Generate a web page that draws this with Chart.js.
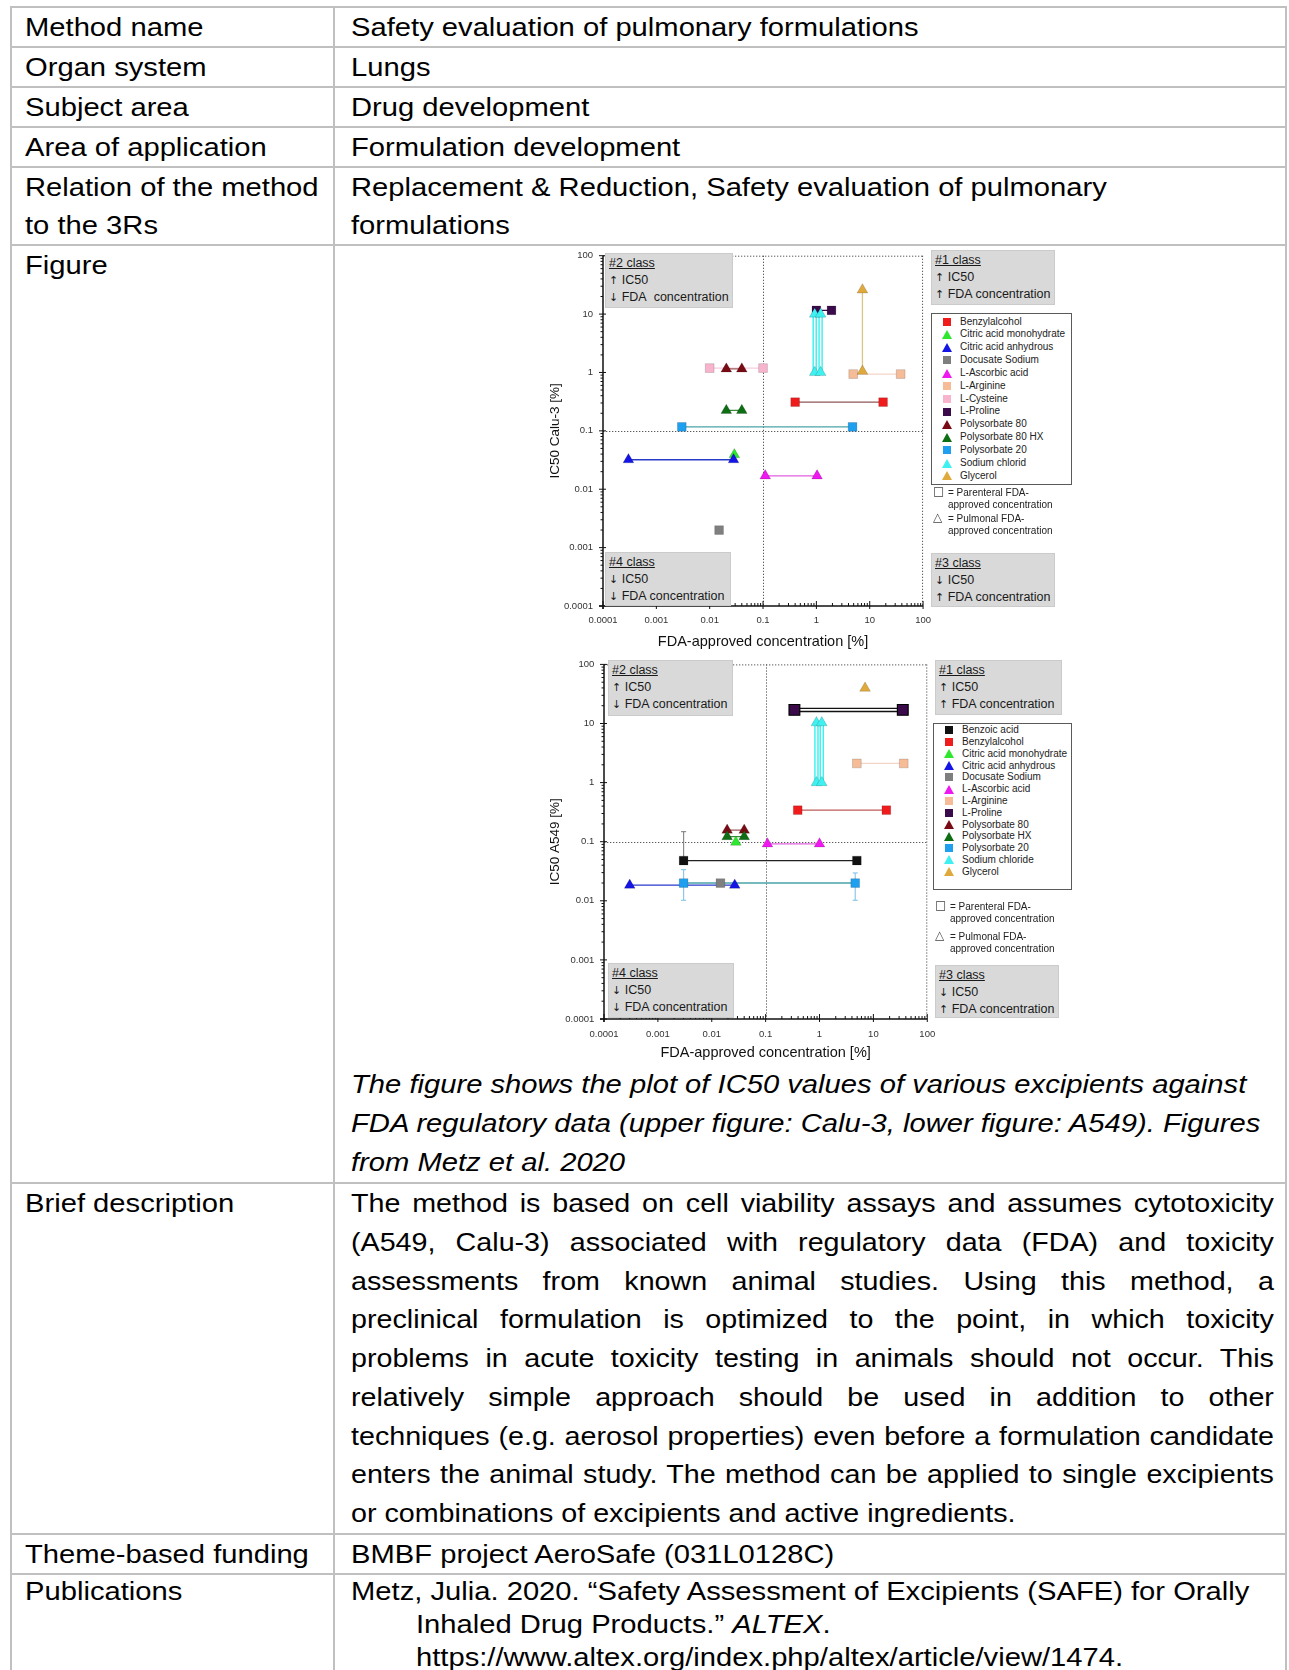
<!DOCTYPE html>
<html>
<head>
<meta charset="utf-8">
<script src="https://cdn.jsdelivr.net/npm/chart.js@4.4.1/dist/chart.umd.min.js"></script>
<style>
html, body { margin: 0; padding: 0; background: #fff; }
body { width: 1289px; height: 1670px; overflow: hidden; position: relative; font-family: "Liberation Sans", Arial, sans-serif; color: #000; }
.sheet { position: absolute; left: 10px; top: 6px; width: 1273px; display: grid; grid-template-columns: 321px 950px; grid-template-rows: 38px 38px 38px 38px 76px 936px 349px 38px 120px; gap: 2px; padding: 2px; background: #c0c0c0; }
.c { background: #fff; position: relative; overflow: hidden; }
.t { position: absolute; left: 13px; top: 0; transform: scaleX(1.14); transform-origin: 0 0; font-size: 25.6px; line-height: 38px; white-space: nowrap; }
.r { left: 15.5px; width: 809.6px; }
.cap { top: auto; bottom: 0; font-style: italic; line-height: 39px; }
.brief { line-height: 38.75px; white-space: normal; transform: scaleX(1.12); width: 824px; }
.brief div { text-align: justify; text-align-last: justify; }
.brief div.last { text-align-last: left; }
.pub { line-height: 33px; }
.pub .ind { padding-left: 57px; }
.plot { position: absolute; z-index: 1; }
.plot canvas { display: block; }
.cls { position: absolute; z-index: 2; box-sizing: border-box; background: #d9d9d9; border: 1px solid #cbcbcb; font-size: 12.5px; line-height: 17.3px; padding: 0.5px 0 0 3px; color: #1a1a1a; white-space: nowrap; }
.cls u { text-decoration: underline; }
.ar { font-family: "DejaVu Sans", sans-serif; font-size: 11px; }
.leg { position: absolute; z-index: 2; box-sizing: border-box; background: #fff; border: 1px solid #5a5a5a; font-size: 10px; color: #222; }
.li { position: relative; padding-left: 28px; white-space: nowrap; }
.mk { position: absolute; }
.mk.sq { width: 8px; height: 8px; }
.mk.tri { width: 0; height: 0; border-left: 5px solid transparent; border-right: 5px solid transparent; }
.note { position: absolute; z-index: 2; font-size: 10px; line-height: 11.8px; color: #222; white-space: nowrap; }
.note .sym { position: absolute; left: 0; top: -1px; font-family: "DejaVu Sans", sans-serif; font-size: 12px; color: #444; }
</style>
</head>
<body>
<div class="sheet">
  <div class="c"><div class="t">Method name</div></div>
  <div class="c"><div class="t r">Safety evaluation of pulmonary formulations</div></div>
  <div class="c"><div class="t">Organ system</div></div>
  <div class="c"><div class="t r">Lungs</div></div>
  <div class="c"><div class="t">Subject area</div></div>
  <div class="c"><div class="t r">Drug development</div></div>
  <div class="c"><div class="t">Area of application</div></div>
  <div class="c"><div class="t r">Formulation development</div></div>
  <div class="c"><div class="t">Relation of the method<br>to the 3Rs</div></div>
  <div class="c"><div class="t r">Replacement &amp; Reduction, Safety evaluation of pulmonary<br>formulations</div></div>
  <div class="c"><div class="t">Figure</div></div>
  <div class="c"><div class="t r cap">The figure shows the plot of IC50 values of various excipients against<br>FDA regulatory data (upper figure: Calu-3, lower figure: A549). Figures<br>from Metz et al. 2020</div></div>
  <div class="c"><div class="t">Brief description</div></div>
  <div class="c"><div class="t r brief">
    <div>The method is based on cell viability assays and assumes cytotoxicity</div>
    <div>(A549, Calu-3) associated with regulatory data (FDA) and toxicity</div>
    <div>assessments from known animal studies. Using this method, a</div>
    <div>preclinical formulation is optimized to the point, in which toxicity</div>
    <div>problems in acute toxicity testing in animals should not occur. This</div>
    <div>relatively simple approach should be used in addition to other</div>
    <div>techniques (e.g. aerosol properties) even before a formulation candidate</div>
    <div>enters the animal study. The method can be applied to single excipients</div>
    <div class="last">or combinations of excipients and active ingredients.</div>
  </div></div>
  <div class="c"><div class="t">Theme-based funding</div></div>
  <div class="c"><div class="t r">BMBF project AeroSafe (031L0128C)</div></div>
  <div class="c"><div class="t pub">Publications</div></div>
  <div class="c"><div class="t r pub">
    <div>Metz, Julia. 2020. “Safety Assessment of Excipients (SAFE) for Orally</div>
    <div class="ind">Inhaled Drug Products.” <i>ALTEX</i>.</div>
    <div class="ind">https://www.altex.org/index.php/altex/article/view/1474.</div>
  </div></div>
</div>

<div class="plot" style="left:545px;top:240px"><canvas id="calu3" width="395" height="420"></canvas></div>
<div class="plot" style="left:546px;top:649px"><canvas id="a549" width="399" height="424"></canvas></div>

<div class="cls" style="left:605px;top:253px;width:128px;height:55px"><u>#2 class</u><br><span class="ar">↑</span> IC50<br><span class="ar">↓</span> FDA&nbsp; concentration</div>
<div class="cls" style="left:931px;top:250px;width:124px;height:55px"><u>#1 class</u><br><span class="ar">↑</span> IC50<br><span class="ar">↑</span> FDA concentration</div>
<div class="cls" style="left:931px;top:553px;width:124px;height:54px"><u>#3 class</u><br><span class="ar">↓</span> IC50<br><span class="ar">↑</span> FDA concentration</div>
<div class="cls" style="left:605px;top:552px;width:126px;height:54px"><u>#4 class</u><br><span class="ar">↓</span> IC50<br><span class="ar">↓</span> FDA concentration</div>
<div class="leg" id="leg-calu3" style="left:931px;top:313px;width:141px;height:172px;padding-top:1.6px"></div>
<div class="note" style="left:933px;top:487px"><span class="sym">□</span><div style="padding-left:15px">= Parenteral FDA-<br>approved concentration</div></div>
<div class="note" style="left:933px;top:513px"><span class="sym">△</span><div style="padding-left:15px">= Pulmonal FDA-<br>approved concentration</div></div>

<div class="cls" style="left:608px;top:660px;width:125px;height:56px"><u>#2 class</u><br><span class="ar">↑</span> IC50<br><span class="ar">↓</span> FDA concentration</div>
<div class="cls" style="left:935px;top:660px;width:127px;height:55px"><u>#1 class</u><br><span class="ar">↑</span> IC50<br><span class="ar">↑</span> FDA concentration</div>
<div class="cls" style="left:935px;top:965px;width:124px;height:53px"><u>#3 class</u><br><span class="ar">↓</span> IC50<br><span class="ar">↑</span> FDA concentration</div>
<div class="cls" style="left:608px;top:963px;width:126px;height:55px"><u>#4 class</u><br><span class="ar">↓</span> IC50<br><span class="ar">↓</span> FDA concentration</div>
<div class="leg" id="leg-a549" style="left:933px;top:723px;width:139px;height:167px;padding-top:0.2px"></div>
<div class="note" style="left:935px;top:901px"><span class="sym">□</span><div style="padding-left:15px">= Parenteral FDA-<br>approved concentration</div></div>
<div class="note" style="left:935px;top:931px"><span class="sym">△</span><div style="padding-left:15px">= Pulmonal FDA-<br>approved concentration</div></div>

<script>
// Shared axis ticks (both axes are log, 0.0001 .. 100 %)
const AXIS_TICKS = [0.0001, 0.001, 0.01, 0.1, 1, 10, 100];
const AXIS_LABELS = ['0.0001', '0.001', '0.01', '0.1', '1', '10', '100'];
const THRESHOLD_FDA = 0.1;
const THRESHOLD_IC50 = 0.1;

// Upper figure: Calu-3. One entry per marker; markers of the same group are joined.
// Route: P = parenteral FDA-approved concentration (square), L = pulmonal (triangle)
const CALU3_SUBSTANCE = ['Benzylalcohol', 'Benzylalcohol', 'Citric acid monohydrate', 'Citric acid anhydrous', 'Citric acid anhydrous',
  'Docusate Sodium', 'L-Ascorbic acid', 'L-Ascorbic acid', 'L-Arginine', 'L-Arginine', 'L-Cysteine', 'L-Cysteine',
  'L-Proline', 'L-Proline', 'Polysorbate 80', 'Polysorbate 80', 'Polysorbate 80 HX', 'Polysorbate 80 HX',
  'Polysorbate 20', 'Polysorbate 20', 'Sodium chlorid', 'Sodium chlorid', 'Sodium chlorid', 'Sodium chlorid', 'Glycerol', 'Glycerol'];
const CALU3_GROUP = [1, 1, 2, 3, 3, 4, 5, 5, 6, 6, 7, 7, 8, 8, 9, 9, 10, 10, 11, 11, 12, 12, 13, 13, 14, 14];
const CALU3_ROUTE = ['P', 'P', 'L', 'L', 'L', 'P', 'L', 'L', 'P', 'P', 'P', 'P', 'P', 'P', 'L', 'L', 'L', 'L', 'P', 'P', 'L', 'L', 'L', 'L', 'L', 'L'];
const CALU3_FDA = [0.40, 17.8, 0.029, 0.0003, 0.028, 0.015, 0.11, 1.03, 4.9, 38, 0.01, 0.1,
  1.0, 1.92, 0.0205, 0.040, 0.0205, 0.040, 0.003, 4.76, 0.93, 0.93, 1.2, 1.2, 7.3, 7.3];
const CALU3_IC50 = [0.31, 0.31, 0.039, 0.032, 0.032, 0.002, 0.017, 0.017, 0.94, 0.94, 1.19, 1.19,
  11.6, 11.6, 1.15, 1.15, 0.224, 0.224, 0.117, 0.117, 10, 1, 10, 1, 26, 1.05];
const CALU3_LEGEND = ['Benzylalcohol', 'Citric acid monohydrate', 'Citric acid anhydrous', 'Docusate Sodium', 'L-Ascorbic acid',
  'L-Arginine', 'L-Cysteine', 'L-Proline', 'Polysorbate 80', 'Polysorbate 80 HX', 'Polysorbate 20', 'Sodium chlorid', 'Glycerol'];

// Lower figure: A549
const A549_SUBSTANCE = ['Benzoic acid', 'Benzoic acid', 'Benzylalcohol', 'Benzylalcohol', 'Citric acid monohydrate',
  'Citric acid anhydrous', 'Citric acid anhydrous', 'Docusate Sodium', 'L-Ascorbic acid', 'L-Ascorbic acid',
  'L-Arginine', 'L-Arginine', 'L-Proline', 'L-Proline', 'Polysorbate 80', 'Polysorbate 80', 'Polysorbate HX', 'Polysorbate HX',
  'Polysorbate 20', 'Polysorbate 20', 'Sodium chloride', 'Sodium chloride', 'Sodium chloride', 'Sodium chloride', 'Glycerol'];
const A549_GROUP = [1, 1, 2, 2, 3, 4, 4, 5, 6, 6, 7, 7, 8, 8, 9, 9, 10, 10, 11, 11, 12, 12, 13, 13, 14];
const A549_ROUTE = ['P', 'P', 'P', 'P', 'L', 'L', 'L', 'P', 'L', 'L', 'P', 'P', 'P', 'P', 'L', 'L', 'L', 'L', 'P', 'P', 'L', 'L', 'L', 'L', 'L'];
const A549_FDA = [0.003, 4.93, 0.394, 17.4, 0.028, 0.0003, 0.0267, 0.0145, 0.108, 1.0, 4.93, 36.6,
  0.342, 35.1, 0.0193, 0.040, 0.0193, 0.040, 0.003, 4.6, 0.877, 0.877, 1.1, 1.1, 7.0];
const A549_IC50 = [0.048, 0.048, 0.341, 0.341, 0.098, 0.0184, 0.0184, 0.020, 0.092, 0.092, 2.11, 2.11,
  17, 17, 0.157, 0.157, 0.122, 0.122, 0.020, 0.020, 10.3, 1.0, 10.3, 1.0, 39.6];
const A549_ERR_LO = [null, null, null, null, null, null, null, null, null, null, null, null,
  null, null, null, null, null, null, 0.0102, 0.0102, null, null, null, null, null];
const A549_ERR_HI = [0.148, null, null, null, null, null, null, null, null, null, null, null,
  null, null, null, null, null, null, 0.0337, 0.0296, null, null, null, null, null];
const A549_LEGEND = ['Benzoic acid', 'Benzylalcohol', 'Citric acid monohydrate', 'Citric acid anhydrous', 'Docusate Sodium',
  'L-Ascorbic acid', 'L-Arginine', 'L-Proline', 'Polysorbate 80', 'Polysorbate HX', 'Polysorbate 20', 'Sodium chloride', 'Glycerol'];

const STYLE = {
  'Benzoic acid': { fill: '#111111', line: '#222222', err: '#8a8a8a' },
  'Benzylalcohol': { fill: '#f01c1c', line: '#8e5656' },
  'Citric acid monohydrate': { fill: '#2ee82e', line: '#2ee82e' },
  'Citric acid anhydrous': { fill: '#1414e6', line: '#2a3acc' },
  'Docusate Sodium': { fill: '#7f7f7f', line: '#7f7f7f' },
  'L-Ascorbic acid': { fill: '#f018f0', line: '#e060e0' },
  'L-Arginine': { fill: '#f6bc98', line: '#f3d6c8' },
  'L-Cysteine': { fill: '#f8b4cc', line: '#f6cddc' },
  'L-Proline': { fill: '#3a0a4a', line: '#3a0a4a' },
  'Polysorbate 80': { fill: '#7a0a14', line: '#a05a5a' },
  'Polysorbate 80 HX': { fill: '#0d6e14', line: '#3d8a3d' },
  'Polysorbate HX': { fill: '#0d6e14', line: '#3d8a3d' },
  'Polysorbate 20': { fill: '#1e9ff0', line: '#4aa3a8', err: '#8cc8ea' },
  'Sodium chlorid': { fill: '#3ef0f0', line: '#3ef0f0' },
  'Sodium chloride': { fill: '#3ef0f0', line: '#3ef0f0' },
  'Glycerol': { fill: '#e0a93c', line: '#dcc38a' }
};

function seg(ctx, x1, y1, x2, y2) {
  ctx.beginPath();
  ctx.moveTo(x1, y1);
  ctx.lineTo(x2, y2);
  ctx.stroke();
}

// log ticks: decades are major (labelled), 2..9 are minor
function logTicks(scale) {
  const ticks = [];
  AXIS_TICKS.forEach((v, i) => {
    ticks.push({ value: v, major: true });
    if (i < AXIS_TICKS.length - 1) {
      for (let k = 2; k <= 9; k++) ticks.push({ value: v * k, major: false });
    }
  });
  scale.ticks = ticks;
}

function tickLabel(value) {
  const i = AXIS_TICKS.indexOf(value);
  return i >= 0 ? AXIS_LABELS[i] : '';
}

const framePlugin = {
  id: 'frame',
  beforeDatasetsDraw(chart) {
    const { ctx, chartArea: a, scales: { x, y } } = chart;
    ctx.save();
    ctx.strokeStyle = '#5a5a5a';
    ctx.lineWidth = 1;
    ctx.setLineDash([1.3, 1.7]);
    const fx = Math.round(x.getPixelForValue(THRESHOLD_FDA)) + 0.5;
    const fy = Math.round(y.getPixelForValue(THRESHOLD_IC50)) + 0.5;
    seg(ctx, fx, a.top, fx, a.bottom);
    seg(ctx, a.left, fy, a.right, fy);
    seg(ctx, a.left, a.top + 0.5, a.right, a.top + 0.5);
    seg(ctx, a.right - 0.5, a.top, a.right - 0.5, a.bottom);
    ctx.setLineDash([]);

    ctx.strokeStyle = '#111';
    ctx.lineWidth = 1.5;
    seg(ctx, a.left - 4, a.bottom, a.right, a.bottom);
    seg(ctx, a.left, a.top, a.left, a.bottom + 3);
    ctx.lineWidth = 1;
    x.ticks.forEach(t => {
      const p = x.getPixelForValue(t.value);
      seg(ctx, p, a.bottom + (t.major ? 3 : 0), p, a.bottom - (t.major ? 5 : 3));
    });
    y.ticks.forEach(t => {
      const p = y.getPixelForValue(t.value);
      seg(ctx, a.left - (t.major ? 4 : 2.5), p, a.left + (t.major ? 3 : 0), p);
    });

    // error bars
    chart.data.datasets.forEach(ds => {
      if (!ds.errLo) return;
      ctx.strokeStyle = ds.errColor || '#888';
      ctx.lineWidth = 1.2;
      ds.data.forEach((pt, i) => {
        const lo = ds.errLo[i], hi = ds.errHi[i];
        if (lo == null && hi == null) return;
        const px = x.getPixelForValue(pt.x);
        const y1 = y.getPixelForValue(lo == null ? pt.y : lo);
        const y2 = y.getPixelForValue(hi == null ? pt.y : hi);
        seg(ctx, px, y1, px, y2);
        if (lo != null) seg(ctx, px - 2.5, y1, px + 2.5, y1);
        if (hi != null) seg(ctx, px - 2.5, y2, px + 2.5, y2);
      });
    });
    ctx.restore();
  }
};

function buildDatasets(names, groups, routes, fda, ic50, opts) {
  const ds = [];
  const groupIds = [...new Set(groups)];
  groupIds.forEach(g => {
    const idx = groups.map((v, i) => (v === g ? i : -1)).filter(i => i >= 0);
    const name = names[idx[0]];
    const st = STYLE[name];
    const pts = idx.map(i => ({ x: fda[i], y: ic50[i] }));
    const isDouble = opts.double.includes(name);
    const lineColor = (opts.lineColor && opts.lineColor[name]) || st.line;
    if (idx.length > 1) {
      ds.push({
        data: pts, showLine: true, pointRadius: 0, borderColor: lineColor,
        borderWidth: isDouble ? 4.5 : 1.3, order: 100 - g
      });
      if (isDouble) {
        ds.push({ data: pts, showLine: true, pointRadius: 0, borderColor: '#ffffff', borderWidth: 1.6, order: 60 - g });
      }
    }
    const big = opts.big.includes(name);
    const point = {
      data: pts, showLine: false,
      pointStyle: idx.map(i => (routes[i] === 'P' ? 'rect' : 'triangle')),
      pointRadius: idx.map(i => (routes[i] === 'P' ? (big ? 7.6 : 6.2) : 6.2)),
      pointBackgroundColor: st.fill,
      pointBorderColor: big ? '#000' : 'rgba(0,0,0,0.25)',
      pointBorderWidth: big ? 1.2 : 0.6,
      order: -g
    };
    if (opts.errLo) {
      point.errLo = idx.map(i => opts.errLo[i]);
      point.errHi = idx.map(i => opts.errHi[i]);
      point.errColor = st.err;
    }
    ds.push(point);
  });
  return ds;
}

function makeChart(id, datasets, yTitle, geo) {
  const tickFont = { family: '"Liberation Sans", Arial, sans-serif', size: 9.5 };
  return new Chart(document.getElementById(id), {
    type: 'scatter',
    data: { datasets },
    options: {
      responsive: false,
      animation: false,
      events: [],
      layout: { padding: { left: 0, top: 12, right: 12, bottom: 0 } },
      plugins: { legend: { display: false }, tooltip: { enabled: false } },
      scales: {
        x: {
          type: 'logarithmic', min: 0.0001, max: 100,
          afterBuildTicks: logTicks,
          afterFit: s => { s.height = geo.xh; },
          grid: { display: false, drawTicks: false },
          border: { display: false },
          ticks: { callback: tickLabel, autoSkip: false, maxRotation: 0, padding: geo.xpad, font: tickFont, color: '#333' },
          title: { display: true, text: 'FDA-approved concentration [%]', color: '#111',
            font: { family: '"Liberation Sans", Arial, sans-serif', size: 14.5 }, padding: { top: 0, bottom: geo.xtb } }
        },
        y: {
          type: 'logarithmic', min: 0.0001, max: 100,
          afterBuildTicks: logTicks,
          afterFit: s => { s.width = 58; },
          grid: { display: false, drawTicks: false },
          border: { display: false },
          ticks: { callback: tickLabel, autoSkip: false, padding: geo.ypad, font: tickFont, color: '#333' },
          title: { display: true, text: yTitle, color: '#111',
            font: { family: '"Liberation Sans", Arial, sans-serif', size: 13.5 }, padding: { top: geo.ytp, bottom: 0 } }
        }
      }
    },
    plugins: [framePlugin]
  });
}

function buildLegend(elId, legend, substance, route, rowH) {
  const el = document.getElementById(elId);
  el.innerHTML = legend.map(name => {
    const i = substance.indexOf(name);
    const color = STYLE[name].fill;
    const mk = route[i] === 'P'
      ? `<span class="mk sq" style="left:10.5px;top:${(rowH - 8) / 2}px;background:${color}"></span>`
      : `<span class="mk tri" style="left:10px;top:${(rowH - 9) / 2}px;border-bottom:9px solid ${color}"></span>`;
    return `<div class="li" style="height:${rowH}px;line-height:${rowH}px">${mk}${name}</div>`;
  }).join('');
}

const calu3 = buildDatasets(CALU3_SUBSTANCE, CALU3_GROUP, CALU3_ROUTE, CALU3_FDA, CALU3_IC50,
  { double: ['Sodium chlorid'], big: [] });
const a549 = buildDatasets(A549_SUBSTANCE, A549_GROUP, A549_ROUTE, A549_FDA, A549_IC50,
  { double: ['Sodium chloride', 'L-Proline'], big: ['L-Proline'], lineColor: { 'L-Proline': '#111111', 'Benzylalcohol': '#c05a5a' },
    errLo: A549_ERR_LO, errHi: A549_ERR_HI });

makeChart('calu3', calu3, 'IC50 Calu-3 [%]', { xh: 54, xpad: 9, xtb: 9.6, ypad: 10, ytp: 2 });
makeChart('a549', a549, 'IC50 A549 [%]', { xh: 54, xpad: 9.8, xtb: 11.6, ypad: 9.7, ytp: 1 });

buildLegend('leg-calu3', CALU3_LEGEND, CALU3_SUBSTANCE, CALU3_ROUTE, 12.83);
buildLegend('leg-a549', A549_LEGEND, A549_SUBSTANCE, A549_ROUTE, 11.8);
</script>
</body>
</html>
